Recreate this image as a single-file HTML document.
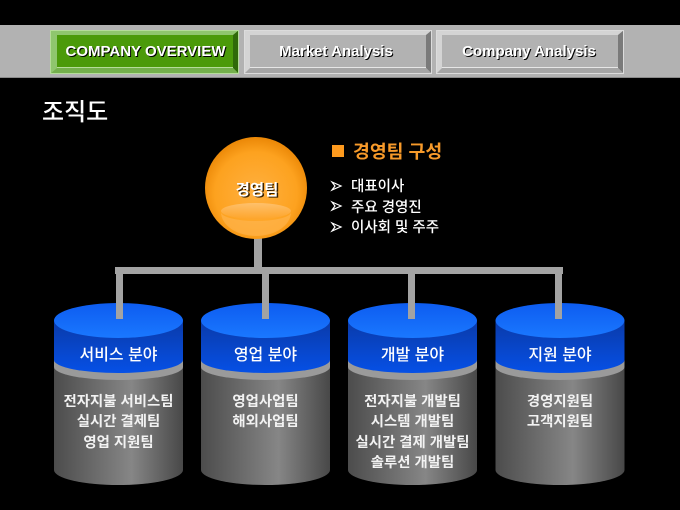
<!DOCTYPE html>
<html><head><meta charset="utf-8">
<style>
html,body{margin:0;padding:0;background:#000;width:680px;height:510px;overflow:hidden}
svg{display:block}
text{font-family:"Liberation Sans","Noto Sans CJK KR","NanumGothic",sans-serif}
.t{font-size:14.400px;font-weight:700;fill:#f2f2f2;text-anchor:middle}
.h{font-size:16px;font-weight:500;fill:#fff;text-anchor:middle}
.l{font-size:14.500px;font-weight:500;fill:#fff}
.tab{font-size:15px;font-weight:700;text-anchor:middle;fill:#fff}
.tabs{font-size:15px;font-weight:700;text-anchor:middle;fill:#000}
</style></head><body>
<svg width="680" height="510" viewBox="0 0 680 510" xmlns="http://www.w3.org/2000/svg">
<defs>
<linearGradient id="gray" x1="0" x2="1" y1="0" y2="0"><stop offset="0" stop-color="#4c4c4c"/><stop offset=".6" stop-color="#868686"/><stop offset="1" stop-color="#484848"/></linearGradient>
<linearGradient id="blue" x1="0" x2="0" y1="0" y2="1"><stop offset="0" stop-color="#0a3aa8"/><stop offset="1" stop-color="#0650e6"/></linearGradient>
<linearGradient id="top" x1="0" x2="0" y1="0" y2="1"><stop offset="0" stop-color="#0d5cf0"/><stop offset="1" stop-color="#1a78ff"/></linearGradient>
<radialGradient id="ball" cx=".5" cy=".55" r=".56"><stop offset="0" stop-color="#ffb040"/><stop offset=".72" stop-color="#fda21f"/><stop offset="1" stop-color="#e98504"/></radialGradient>
<linearGradient id="glow" x1="0" x2="0" y1="0" y2="1"><stop offset="0" stop-color="#ffc983"/><stop offset="1" stop-color="#fda52c"/></linearGradient>
<g id="cyl">
<path d="M0 57V167A64.500 15 0 0 0 129 167V57Z" fill="url(#gray)"/>
<path d="M0 57V64A64.500 13 0 0 0 129 64V57Z" fill="#9a9a9a"/>
<path d="M0 17V57A64.500 13 0 0 0 129 57V17Z" fill="url(#blue)"/>
<ellipse cx="64.500" cy="17.500" rx="64.500" ry="17.500" fill="url(#top)"/>
</g>
</defs>
<rect width="680" height="510" fill="#000"/>
<rect y="25" width="680" height="53" fill="#b2b2b2"/>
<rect y="77" width="680" height="1" fill="#8a8a8a"/>

<!-- tab 1 -->
<rect x="50" y="30" width="189" height="44" fill="#8fc66e"/>
<polygon points="239,30 233,35 233,68 239,74" fill="#2f6a08"/>
<polygon points="50,74 57,68 233,68 239,74" fill="#74b04c"/>
<rect x="57" y="35" width="176" height="33" fill="#4b9a0a"/>
<rect x="57" y="67" width="176" height="1" fill="#b5dc9a"/>
<rect x="50.500" y="30.500" width="188" height="43" fill="none" stroke="#b5dc9a"/>
<text class="tabs" x="146.500" y="57">COMPANY OVERVIEW</text>
<text class="tab" x="145.500" y="56">COMPANY OVERVIEW</text>

<!-- tab 2 -->
<rect x="244" y="30" width="188" height="44" fill="#d4d4d4"/>
<polygon points="432,30 426,35 426,68 432,74" fill="#7a7a7a"/>
<polygon points="244,74 250,68 426,68 432,74" fill="#a6a6a6"/>
<rect x="250" y="35" width="176" height="33" fill="#b2b2b2"/>
<rect x="250" y="67" width="176" height="1" fill="#e6e6e6"/>
<rect x="244.500" y="30.500" width="187" height="43" fill="none" stroke="#dcdcdc"/>
<text class="tabs" x="337" y="57">Market Analysis</text>
<text class="tab" x="336" y="56">Market Analysis</text>

<!-- tab 3 -->
<rect x="436" y="30" width="188" height="44" fill="#d4d4d4"/>
<polygon points="624,30 618,35 618,68 624,74" fill="#7a7a7a"/>
<polygon points="436,74 442,68 618,68 624,74" fill="#a6a6a6"/>
<rect x="442" y="35" width="176" height="33" fill="#b2b2b2"/>
<rect x="442" y="67" width="176" height="1" fill="#e6e6e6"/>
<rect x="436.500" y="30.500" width="187" height="43" fill="none" stroke="#dcdcdc"/>
<text class="tabs" x="530" y="57">Company Analysis</text>
<text class="tab" x="529" y="56">Company Analysis</text>

<text x="42" y="120" font-size="24" font-weight="500" fill="#fff">조직도</text>

<!-- cylinders -->
<use href="#cyl" x="54" y="303"/>
<use href="#cyl" x="201" y="303"/>
<use href="#cyl" x="348" y="303"/>
<use href="#cyl" x="495.500" y="303"/>

<!-- connectors -->
<g fill="#a3a3a3">
<rect x="254" y="236" width="8" height="34"/>
<rect x="115" y="267" width="448" height="7"/>
<rect x="116" y="267" width="7" height="52"/>
<rect x="262" y="272" width="7" height="47"/>
<rect x="408" y="272" width="7" height="47"/>
<rect x="555" y="267" width="7" height="52"/>
</g>

<!-- ball -->
<circle cx="256" cy="188" r="51" fill="url(#ball)"/>
<ellipse cx="256" cy="211" rx="35" ry="8" fill="url(#glow)" opacity=".7"/>
<path d="M221 212A35 24 0 0 0 291 212A35 9 0 0 1 221 212Z" fill="#ffb858" opacity=".55"/>
<text x="258.500" y="196" font-size="15.500" font-weight="700" fill="#3a2200" text-anchor="middle">경영팀</text>
<text x="257" y="195" font-size="15.500" font-weight="700" fill="#fff" text-anchor="middle">경영팀</text>

<!-- right heading -->
<rect x="332" y="145" width="12" height="12" fill="#fd9a1e"/>
<text x="353" y="158" font-size="18.300" font-weight="700" fill="#f79a2a">경영팀 구성</text>
<g fill="none" stroke="#fff" stroke-width="1.200"><path d="M332 182l9 4-9 4 3-4z"/><path d="M332 202l9 4-9 4 3-4z"/><path d="M332 223l9 4-9 4 3-4z"/></g>
<text class="l" x="351" y="191">대표이사</text>
<text class="l" x="351" y="212">주요 경영진</text>
<text class="l" x="351" y="232">이사회 및 주주</text>

<!-- cylinder labels -->
<text class="h" x="118.500" y="360">서비스 분야</text>
<text class="h" x="265.500" y="360">영업 분야</text>
<text class="h" x="412.500" y="360">개발 분야</text>
<text class="h" x="560" y="360">지원 분야</text>

<text class="t" x="118.500" y="406">전자지불 서비스팀</text>
<text class="t" x="118.500" y="426">실시간 결제팀</text>
<text class="t" x="118.500" y="447">영업 지원팀</text>

<text class="t" x="265.500" y="406">영업사업팀</text>
<text class="t" x="265.500" y="426">해외사업팀</text>

<text class="t" x="412.500" y="406">전자지불 개발팀</text>
<text class="t" x="412.500" y="426">시스템 개발팀</text>
<text class="t" x="412.500" y="447">실시간 결제 개발팀</text>
<text class="t" x="412.500" y="467">솔루션 개발팀</text>

<text class="t" x="560" y="406">경영지원팀</text>
<text class="t" x="560" y="426">고객지원팀</text>
</svg>
</body></html>
